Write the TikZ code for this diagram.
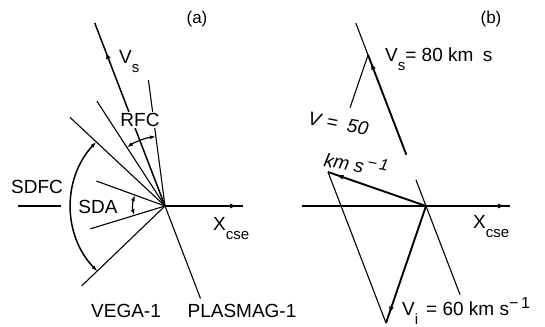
\documentclass[tikz,border=0pt]{standalone}
\usepackage{fontspec}
\setmainfont{Liberation Sans}
\usetikzlibrary{arrows.meta,calc,decorations.markings}
\newcommand{\lsub}[1]{\raisebox{-9pt}{\fontsize{15}{15}\selectfont #1}}
\newcommand{\lsup}[1]{\raisebox{7pt}{\fontsize{16}{16}\selectfont #1}}
\begin{document}
\begin{tikzpicture}[x=1pt,y=-1pt,
  thinl/.style={line width=1.1pt},
  thickl/.style={line width=1.9pt},
  lbl/.style={font=\fontsize{19}{22}\selectfont, inner sep=0pt},
  ilbl/.style={font=\fontsize{19}{22}\selectfont\itshape, inner sep=0pt},
  tag/.style={font=\fontsize{17}{20}\selectfont, inner sep=0pt},
  tipmark/.style={postaction={decorate},decoration={markings,mark=at position #1 with {\arrow{Latex[length=7pt,width=5pt]}}}},
  dbl/.style={{Latex[length=6pt,width=4pt]}-{Latex[length=6pt,width=4pt]}, line width=1.2pt}
]
\useasboundingbox (0,0) rectangle (545,326);
% ---------- panel (a) ----------
\coordinate (Oa) at (165,206);
\coordinate (A1) at ($(Oa)+(-97.5:127)$);
\coordinate (A2) at ($(Oa)+(-123:125)$);
\coordinate (A3) at ($(Oa)+(-137:130)$);
\coordinate (A4) at ($(Oa)+(-160:73)$);
\coordinate (A5) at ($(Oa)+(-197:78)$);
\coordinate (A6) at ($(Oa)+(136.2:115.5)$);
\coordinate (VsTa) at ($(Oa)+(-111:196)$);
\coordinate (PLa) at ($(Oa)+(69:99)$);
\coordinate (Xa) at (243,206);
\coordinate (Sl) at (18,206);
\coordinate (Sr) at (61,206);

\draw[thinl] (Oa) -- (A1);
\draw[thinl] (Oa) -- (A2);
\draw[thinl] (Oa) -- (A3);
\draw[thinl] (Oa) -- (A4);
\draw[thinl] (Oa) -- (A5);
\draw[thinl] (Oa) -- (A6);
\draw[thinl] (Oa) -- (PLa);
\draw[line width=1.5pt, tipmark=165pt] (Oa) -- (VsTa);
\draw[thinl, tipmark=-6pt] (Oa) -- (Xa);
\draw[thinl] (Sl) -- (Sr);

\draw[dbl] ($(Oa)+(-97.5:70)$) arc[start angle=-97.5, end angle=-123, radius=70];
\draw[dbl, line width=1.5pt] ($(Oa)+(-137:94)$) arc[start angle=-137, end angle=-224, radius=94];
\draw[dbl] ($(Oa)+(-160:32)$) arc[start angle=-160, end angle=-197, radius=32];

\node[tag] (ta) at (197,19) {(a)};
\node[lbl, anchor=base west] (vsa) at (119,64) {V\lsub{s}};
\node[lbl, fill=white, inner sep=1pt] (rfc) at (140,120) {RFC};
\node[lbl] (sdfc) at (37,187) {SDFC};
\node[lbl] (sda) at (98,207) {SDA};
\node[lbl, anchor=base west] (xa) at (213,230) {X\lsub{cse}};
\node[lbl] (vega) at (126,311) {VEGA-1};
\node[lbl] (plas) at (242,311) {PLASMAG-1};

% ---------- panel (b) ----------
\coordinate (Ob) at (426,206);
\coordinate (XbL) at (302,206);
\coordinate (XbR) at (510,206);
\coordinate (Vt) at (328,172);
\coordinate (Vit) at (386,323);
\coordinate (Vst) at ($(Ob)+(-111:161.7)$);
\coordinate (VsTop) at ($(Ob)+(-111:196)$);
\coordinate (VsBase) at ($(Ob)+(-111:55)$);
\coordinate (PLup) at ($(Ob)+(-111:28)$);
\coordinate (PLb) at ($(Ob)+(69:95)$);
\coordinate (Gp) at ($(Vst)!0.45!(Vt)$);

\draw[thinl, tipmark=-5pt] (XbL) -- (XbR);
\draw[thickl, tipmark=-9pt] (Ob) -- (Vt);
\draw[thickl, tipmark=-10pt] (Ob) -- (Vit);
\draw[thinl] (Vt) -- (Vit);
\draw[thickl, tipmark=-8pt] (VsBase) -- (Vst);
\draw[thinl] (Vst) -- (VsTop);
\draw[thinl] (Vst) -- (Gp);
\draw[thinl] (PLup) -- (PLb);

\node[tag] (tb) at (491,19) {(b)};
\node[lbl, anchor=base west] (vsb) at (385,62) {V\lsub{s}= 80 km\enspace s};
\node[lbl, anchor=base west] (xb) at (473,228) {X\lsub{cse}};
\node[lbl, anchor=base west] (vib) at (402,315) {V\lsub{i}\hspace{8pt}= 60 km s\lsup{−\,1}};
\node[ilbl, anchor=base west, rotate=-11] (v50) at (307,124) {V\hspace{6pt}=\hspace{10pt}50};
\node[ilbl, anchor=base west, rotate=-11] (kms) at (323,166) {km s\hspace{3pt}\lsup{−\,1}};
\end{tikzpicture}
\end{document}
